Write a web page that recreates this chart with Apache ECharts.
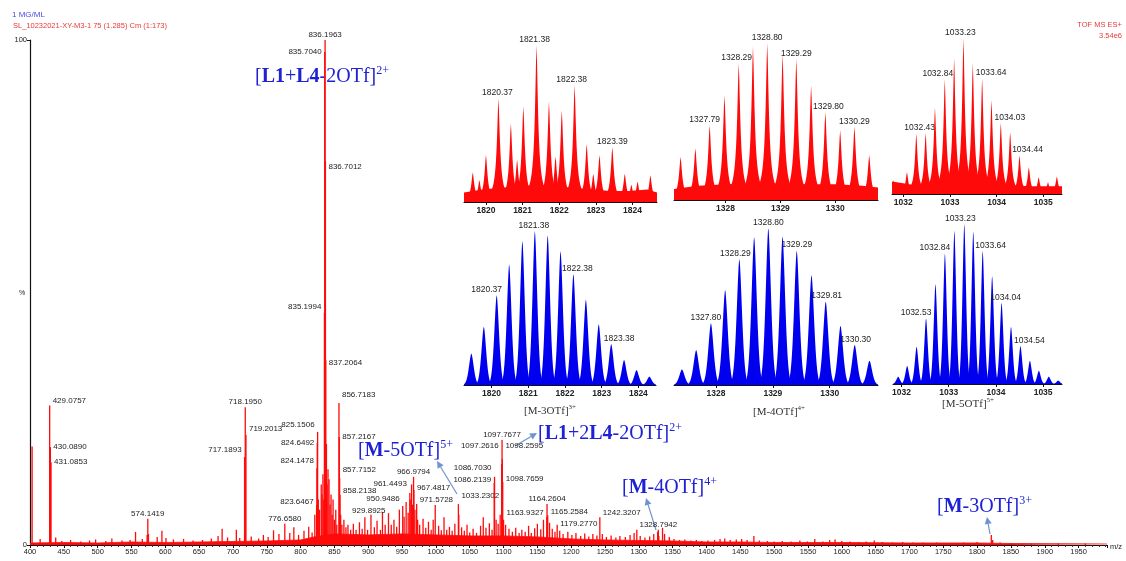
<!DOCTYPE html>
<html>
<head>
<meta charset="utf-8">
<script src="https://cdn.jsdelivr.net/npm/echarts@6.0.0/dist/echarts.min.js"></script>
<style>
  html, body { margin: 0; padding: 0; background: #fff; }
  #chart { width: 1126px; height: 561px; }
</style>
</head>
<body>
<div id="chart"></div>
<script>
const RED = '#ff0a0a'
const BLUE = '#0000ee'
const NOTE = '#1e22d4'
const ARROW = '#6f93cf'
const SANS = 'Liberation Sans'
const SERIF = 'Liberation Serif'

// ---- main spectrum: labelled peaks [m/z, %]
const labelledPeaks = [
  [429.0757, 27.6], [430.0890, 19.4], [431.0853, 16.4],
  [574.1419, 5.2],
  [717.1893, 17.4], [718.1950, 27.3], [719.2013, 21.8],
  [776.6580, 4.2],
  [823.6467, 7.9], [824.1478, 15.2], [824.6492, 20.2], [825.1506, 22.4],
  [835.1994, 46.0], [835.7040, 97.6], [836.1963, 100], [836.7012, 76.0], [837.2064, 36.6],
  [856.7183, 28.1], [857.2167, 21.4], [857.7152, 13.3], [858.2138, 9.9],
  [929.8925, 6.3], [950.9486, 7.7], [961.4493, 10.3], [966.9794, 13.5], [967.4817, 10.9], [971.5728, 8.1],
  [1033.2302, 8.1],
  [1086.2139, 12.3], [1086.7030, 13.5],
  [1097.2616, 16.0], [1097.7677, 20.8], [1098.2595, 17.0], [1098.7659, 12.5],
  [1163.9327, 5.5], [1164.2604, 8.1], [1165.2584, 5.9], [1179.2770, 4.0],
  [1242.3207, 5.5], [1328.7942, 3.0]
]
// where each peak label sits: t = above, l = left, r = right; plus a small vertical nudge
const labelSide = ['r','r','r','t','l','t','r','t','l','l','l','l','l','l','t','r','r','r','r','r','r',
  'l','l','l','t','r','r','r','l','l','l','t','r','r','l','t','r','r','r','t']
const labelDy = [-5,0,0,0,-7,0,-6,0,-3,-7,0,-7,-6,0,0,6,3,-8,0,-8,-4,
  -2,-7,-9,0,-2,-4,-8,-3,-9,-18,0,-13,-3,-4,0,-3,-1,-4,0]

// unlabelled peaks and grass
const minorPeaks = [
  [403.1, 19.5], [415, 1.2], [438, 1.5], [447, 0.8], [460, 1.0], [475, 0.7], [488, 0.9], [497, 1.1],
  [512, 0.8], [521, 1.3], [536, 0.9], [548, 1.0], [556, 2.6], [566, 1.2], [573.1, 2.0], [575.1, 2.2],
  [588, 1.6], [595, 2.8], [601, 1.4], [612, 1.1], [627, 1.2], [641, 0.9], [655, 1.0], [668, 1.3],
  [678, 1.8], [684, 3.2], [692, 1.5], [705, 3.0], [710, 1.4], [727, 1.7], [738, 1.3], [745, 2.0],
  [752, 1.6], [760, 2.9], [768, 2.2], [784, 2.4], [790, 3.5], [797, 2.0], [805, 2.8], [812, 3.6],
  [817, 2.5], [821, 6], [826.2, 9], [828, 7], [830.5, 12], [831.6, 10], [833, 14], [834.2, 9],
  [838.2, 20], [839.2, 12], [840.5, 15], [842.0, 13], [843.5, 8], [845, 10], [846.6, 6], [848, 9],
  [850, 5], [852, 7], [853.5, 4], [859.2, 6], [861, 4], [864, 5], [867, 3.5], [870, 4], [874, 3],
  [878, 4.2], [882, 3], [887, 4.5], [891, 3.2], [895, 5.5], [899, 3], [904, 6], [909, 3.5],
  [913, 4.8], [918, 3], [921, 6.5], [925, 4], [934, 4], [938, 5], [942, 3.6], [946, 7], [953, 5.6],
  [956, 8.5], [959, 6.4], [962, 9], [964, 12], [965.5, 8], [969, 7], [973, 5], [976, 4], [981, 5.2],
  [985, 3.4], [989, 4.6], [993, 3], [996, 5], [999, 7.9], [1004, 3.8], [1008, 2.9], [1012, 5.5],
  [1016, 3], [1020, 3.6], [1024, 2.8], [1028, 4.2], [1033.8, 6], [1038, 3.5], [1042, 2.8], [1046, 4],
  [1050, 2.5], [1055, 3.2], [1060, 2.4], [1066, 3.8], [1070, 5.5], [1074, 3.4], [1079, 4.3],
  [1083, 3], [1089, 5], [1092, 4.2], [1095, 6], [1100, 5], [1103, 4], [1108, 3.2], [1113, 2.6],
  [1118, 3.4], [1123, 2.4], [1127, 3], [1132, 2.6], [1137, 3.8], [1141, 2.4], [1146, 3.3],
  [1150, 4.2], [1155, 3.1], [1159, 5], [1168, 4.4], [1172, 3.2], [1176, 2.6], [1183, 2.8],
  [1188, 2.2], [1195, 2.6], [1201, 2], [1207, 2.4], [1214, 1.8], [1220, 2.3], [1226, 1.7],
  [1232, 2.2], [1238, 1.9], [1246, 2.2], [1252, 1.6], [1259, 1.9], [1266, 1.5], [1272, 1.8],
  [1280, 1.6], [1287, 2], [1293, 2.4], [1297, 3], [1302, 1.8], [1309, 1.5], [1316, 1.7],
  [1322, 2.2], [1327.8, 2.6], [1329.5, 1.8], [1335, 3.4], [1338, 2.2], [1345, 1.6], [1352, 1.2],
  [1360, 1.0], [1368, 1.1], [1377, 0.9], [1385, 1.0], [1393, 0.8], [1402, 0.9], [1412, 1.0],
  [1420, 1.2], [1427, 1.3], [1435, 1.0], [1444, 1.1], [1452, 1.2], [1460, 1.0], [1470, 1.8],
  [1478, 0.9], [1490, 0.8], [1500, 0.7], [1512, 0.8], [1525, 0.7], [1538, 0.9], [1549, 0.7],
  [1560, 1.2], [1572, 0.7], [1582, 1.0], [1590, 1.1], [1600, 0.8], [1612, 0.7], [1625, 0.6],
  [1636, 0.7], [1648, 0.9], [1660, 0.6], [1675, 0.5], [1690, 0.6], [1705, 0.5], [1720, 0.5],
  [1740, 0.5], [1760, 0.4], [1780, 0.5], [1800, 0.6], [1821, 2.0], [1823, 1.0], [1834, 0.5],
  [1850, 0.4], [1880, 0.3], [1920, 0.3], [1960, 0.3]
]
const baseNoise = [
  [400, 0.4], [450, 0.5], [500, 0.4], [550, 0.6], [600, 0.5], [650, 0.6], [700, 0.7], [750, 0.8],
  [800, 1.0], [820, 1.6], [850, 2.2], [900, 2.0], [950, 2.2], [1000, 2.0], [1050, 1.8], [1100, 1.8],
  [1150, 1.6], [1200, 1.2], [1250, 1.0], [1300, 0.9], [1350, 0.8], [1400, 0.6], [1450, 0.6],
  [1500, 0.5], [1600, 0.5], [1700, 0.4], [1800, 0.4], [1850, 0.3], [1992, 0.2]
]

// ---- insets, measured (red)
const r1Mz = [1819.64, 1819.82, 1820.0, 1820.34, 1820.68, 1820.85, 1821.02, 1821.38, 1821.72, 1821.9,
  1822.07, 1822.42, 1822.75, 1822.93, 1823.1, 1823.45, 1823.79, 1823.97, 1824.14, 1824.49]
const r1Int = [19, 14, 30, 66, 50, 27, 61, 100, 64, 29, 58.5, 74.5, 37, 18, 30, 35, 18, 11, 13, 17]
const r1Lab = [[3, '1820.37'], [7, '1821.38'], [11, '1822.38'], [15, '1823.39']]
const r1Base = [[1819.4, 6], [1819.9, 8], [1820.4, 9], [1820.9, 10], [1821.4, 11], [1821.9, 10],
  [1822.4, 9], [1822.9, 8], [1823.4, 7], [1823.9, 7], [1824.4, 8], [1824.67, 6]]

const r2Mz = [1327.18, 1327.45, 1327.71, 1327.98, 1328.24, 1328.50, 1328.76, 1329.04, 1329.29,
  1329.56, 1329.82, 1330.09, 1330.35, 1330.62]
const r2Int = [27.5, 33, 47.7, 66.7, 87.3, 98, 100, 93, 90, 73, 56, 44.5, 46.6, 28.6]
const r2Lab = [[2, '1327.79'], [4, '1328.29'], [6, '1328.80'], [8, '1329.29'], [10, '1329.80'], [12, '1330.29']]
const r2Base = [[1327.06, 7], [1327.5, 9], [1328, 10], [1328.5, 10.5], [1329, 10.5], [1329.5, 10],
  [1330, 10], [1330.5, 9], [1330.78, 8]]

const r3Mz = [1031.79, 1031.9, 1032.08, 1032.28, 1032.48, 1032.68, 1032.89, 1033.09, 1033.29, 1033.49,
  1033.69, 1033.89, 1034.09, 1034.29, 1034.49, 1034.69, 1034.9, 1035.1, 1035.29]
const r3Int = [8.6, 7.5, 14, 38.7, 39.1, 55.5, 73.5, 87.1, 100, 83.9, 74.2, 60.2, 45.6, 39.8, 24.7,
  17.2, 10.8, 7.5, 11.2]
const r3Lab = [[4, '1032.43'], [6, '1032.84'], [8, '1033.23'], [10, '1033.64'], [12, '1034.03'], [14, '1034.44']]
const r3Base = [[1031.76, 8], [1032.2, 6], [1032.7, 6.5], [1033.2, 7], [1033.7, 6.5], [1034.2, 6],
  [1034.7, 5], [1035.4, 5]]

// ---- insets, simulated (blue)
const b1Mz = [1819.45, 1819.79, 1820.14, 1820.48, 1820.84, 1821.18, 1821.53, 1821.88, 1822.23,
  1822.57, 1822.92, 1823.26, 1823.61, 1823.95, 1824.30]
const b1Int = [20.5, 37.8, 58.3, 78.4, 93.5, 100, 97.2, 87, 72, 55.5, 39.5, 26.6, 16.2, 9.7, 5.4]
const b1Lab = [[2, '1820.37'], [5, '1821.38'], [8, '1822.38'], [11, '1823.38']]

const b2Mz = [1327.40, 1327.65, 1327.91, 1328.16, 1328.41, 1328.67, 1328.92, 1329.17, 1329.42,
  1329.68, 1329.93, 1330.19, 1330.44, 1330.70]
const b2Int = [10, 22.3, 39.4, 60.6, 80.2, 94.3, 100, 94.7, 85.7, 70, 53.2, 37.7, 25.5, 15.5]
const b2Lab = [[2, '1327.80'], [4, '1328.29'], [6, '1328.80'], [8, '1329.29'], [10, '1329.81'], [12, '1330.30']]

const b3Mz = [1031.93, 1032.12, 1032.32, 1032.52, 1032.72, 1032.92, 1033.12, 1033.33, 1033.52,
  1033.72, 1033.92, 1034.12, 1034.32, 1034.52, 1034.72, 1034.91, 1035.12, 1035.32]
const b3Int = [4.6, 11.3, 23.3, 41, 62.5, 81.7, 95.8, 100, 95.4, 83.3, 67.5, 50.8, 35.8, 23.75,
  14.6, 8.3, 4.6, 2.1]
const b3Lab = [[3, '1032.53'], [5, '1032.84'], [7, '1033.23'], [9, '1033.64'], [11, '1034.04'], [13, '1034.54']]

const insetRanges = [[1819.4, 1824.67], [1327.06, 1330.78], [1031.76, 1035.4],
  [1819.25, 1824.48], [1327.26, 1330.85], [1031.82, 1035.4]]
const insetTicks = [[1820, 1821, 1822, 1823, 1824], [1328, 1329, 1330], [1032, 1033, 1034, 1035],
  [1820, 1821, 1822, 1823, 1824], [1328, 1329, 1330], [1032, 1033, 1034, 1035]]

// label nudges (px) for the inset labels, same order as the label lists
const r1Dx = [-1, -2, -3, 0]
const r2Dx = [-5, -2, 0, 0, 3, 0]
const r3Dx = [-6, -7, -3, 9, 9, 8]
const b1Dx = [-10, -1, 4, 8]
const b2Dx = [-5, -4, 0, 0, 1, 1]
const b3Dx = [-10, -10, -4, 8, 4, 9]

const insets = [
  { mz: r1Mz, val: r1Int, lab: r1Lab, dx: r1Dx, base: r1Base, kind: 'lor', w: 1.9, color: RED, box: [464, 45, 193, 157] },
  { mz: r2Mz, val: r2Int, lab: r2Lab, dx: r2Dx, base: r2Base, kind: 'lor', w: 2.0, color: RED, box: [674, 43, 204, 157] },
  { mz: r3Mz, val: r3Int, lab: r3Lab, dx: r3Dx, base: r3Base, kind: 'lor', w: 1.7, color: RED, box: [892, 38, 170, 156] },
  { mz: b1Mz, val: b1Int, lab: b1Lab, dx: b1Dx, kind: 'gau', w: 3.4, color: BLUE, box: [464, 231, 192, 154] },
  { mz: b2Mz, val: b2Int, lab: b2Lab, dx: b2Dx, kind: 'gau', w: 3.8, color: BLUE, box: [674, 228, 204, 157] },
  { mz: b3Mz, val: b3Int, lab: b3Lab, dx: b3Dx, kind: 'gau', w: 2.6, color: BLUE, box: [893, 224, 169, 160] }
]

function mainRender(withLabels) {
  return function (params, api) {
    const c = api.coord([api.value(0), 0])
    const t = api.coord([api.value(0), api.value(1)])
    const children = [{
      type: 'line',
      shape: { x1: c[0], y1: c[1], x2: t[0], y2: t[1] },
      style: { stroke: RED, lineWidth: 1.3 }
    }]
    if (withLabels) {
      const i = params.dataIndex
      const side = labelSide[i]
      const dy = labelDy[i]
      let pos
      if (side === 't') pos = [t[0], t[1] - 1 + dy, 'center', 'bottom']
      else if (side === 'l') pos = [t[0] - 3, t[1] + dy, 'right', 'middle']
      else pos = [t[0] + 3, t[1] + dy, 'left', 'middle']
      children.push({
        type: 'text', x: pos[0], y: pos[1],
        style: {
          text: api.value(0).toFixed(4), fontSize: 8, fontFamily: SANS, fill: '#222',
          textAlign: pos[2], textVerticalAlign: pos[3]
        }
      })
    }
    return { type: 'group', children }
  }
}

function insetRender(ins) {
  const labAt = {}
  ins.lab.forEach(([i, txt], k) => { labAt[i] = [txt, ins.dx[k]] })
  return function (params, api) {
    const cs = params.coordSys
    const c = api.coord([api.value(0), 0])
    const t = api.coord([api.value(0), api.value(1)])
    const H = c[1] - t[1]
    const reach = ins.kind === 'lor' ? ins.w * 8 : ins.w * 3.2
    const clamp = x => Math.min(Math.max(x, cs.x), cs.x + cs.width)
    const pts = []
    for (let k = -30; k <= 30; k++) {
      const d = reach * k / 30
      const u = Math.abs(d) / ins.w
      const f = ins.kind === 'lor' ? 1 / (1 + Math.pow(u, 1.6)) : Math.exp(-Math.pow(u, 1.7))
      pts.push([clamp(c[0] + d), c[1] - H * f])
    }
    pts.push([clamp(c[0] + reach), c[1]], [clamp(c[0] - reach), c[1]])
    const children = [{ type: 'polygon', shape: { points: pts }, style: { fill: ins.color } }]
    const lab = labAt[params.dataIndex]
    if (lab) {
      children.push({
        type: 'text', x: t[0] + lab[1], y: t[1] - 1,
        style: {
          text: lab[0], fontSize: 8.5, fontFamily: SANS, fill: '#222',
          textAlign: 'center', textVerticalAlign: 'bottom'
        }
      })
    }
    return { type: 'group', children }
  }
}

const grid = [{ left: 30, top: 40, width: 1077, height: 505 }]
const xAxis = [{
  type: 'value', gridIndex: 0, min: 400, max: 1992, interval: 50,
  axisLine: { lineStyle: { color: '#111', width: 1 } },
  axisTick: { length: 3, lineStyle: { color: '#111' } },
  minorTick: { show: true, splitNumber: 5, length: 2, lineStyle: { color: '#333' } },
  splitLine: { show: false },
  axisLabel: {
    fontSize: 7.5, fontFamily: SANS, color: '#222', margin: 3,
    formatter: v => (v % 50 === 0 ? String(v) : '')
  }
}]
const yAxis = [{
  type: 'value', gridIndex: 0, min: 0, max: 100, interval: 100,
  axisLine: { show: true, lineStyle: { color: '#111', width: 1.2 } },
  axisTick: { show: true, length: 3, lineStyle: { color: '#111' } },
  splitLine: { show: false },
  axisLabel: { fontSize: 7.5, fontFamily: SANS, color: '#222', margin: 3 }
}]
const series = [
  {
    type: 'line', xAxisIndex: 0, yAxisIndex: 0, data: baseNoise, symbol: 'none',
    lineStyle: { color: RED, width: 0.8 }, areaStyle: { color: RED, opacity: 1 }, silent: true
  },
  { type: 'custom', xAxisIndex: 0, yAxisIndex: 0, data: minorPeaks, renderItem: mainRender(false), silent: true },
  { type: 'custom', xAxisIndex: 0, yAxisIndex: 0, data: labelledPeaks, renderItem: mainRender(true), silent: true }
]

insets.forEach((ins, n) => {
  const g = n + 1
  grid.push({ left: ins.box[0], top: ins.box[1], width: ins.box[2], height: ins.box[3] })
  xAxis.push({
    type: 'value', gridIndex: g, min: insetRanges[n][0], max: insetRanges[n][1],
    axisLine: { onZero: false, lineStyle: { color: '#111', width: 1 } },
    axisTick: { customValues: insetTicks[n], length: 3, lineStyle: { color: '#111' } },
    splitLine: { show: false },
    axisLabel: {
      customValues: insetTicks[n], fontSize: 8.5, fontWeight: 'bold', fontFamily: SANS,
      color: '#222', margin: 4, formatter: v => String(v)
    }
  })
  yAxis.push({ type: 'value', gridIndex: g, min: 0, max: 100, show: false })
  if (ins.base) {
    series.push({
      type: 'line', xAxisIndex: g, yAxisIndex: g, data: ins.base, symbol: 'none',
      lineStyle: { width: 0 }, areaStyle: { color: ins.color, opacity: 1 }, silent: true
    })
  }
  series.push({
    type: 'custom', xAxisIndex: g, yAxisIndex: g,
    data: ins.mz.map((m, i) => [m, ins.val[i]]),
    renderItem: insetRender(ins), silent: true
  })
})

// annotation helpers
function note(x, y, parts, size, sup, color, align) {
  const rich = {
    n: { fontSize: size, fontFamily: SERIF, fill: color, lineHeight: size + 4 },
    b: { fontSize: size, fontFamily: SERIF, fontWeight: 'bold', fill: color, lineHeight: size + 4 },
    s: { fontSize: Math.round(size * 0.62), fontFamily: SERIF, fill: color, verticalAlign: 'top', lineHeight: size * 0.62 }
  }
  return {
    type: 'text', x, y,
    style: {
      text: parts.map(([k, s]) => `{${k}|${s}}`).join('') + `{s|${sup}}`,
      rich, textAlign: align || 'left', textVerticalAlign: 'middle'
    }
  }
}
function arrow(x1, y1, x2, y2) {
  const a = Math.atan2(y2 - y1, x2 - x1)
  const L = 7, W = 3.5
  const bx = x2 - L * Math.cos(a), by = y2 - L * Math.sin(a)
  return [
    { type: 'line', shape: { x1, y1, x2: bx, y2: by }, style: { stroke: ARROW, lineWidth: 1.2 } },
    {
      type: 'polygon',
      shape: { points: [[x2, y2], [bx + W * Math.sin(a), by - W * Math.cos(a)], [bx - W * Math.sin(a), by + W * Math.cos(a)]] },
      style: { fill: ARROW }
    }
  ]
}
function plain(x, y, text, size, color, align, extra) {
  return {
    type: 'text', x, y,
    style: Object.assign({ text, fontSize: size, fontFamily: SANS, fill: color, textAlign: align || 'left', textVerticalAlign: 'middle' }, extra || {})
  }
}

const graphic = [
  plain(12, 15, '1 MG/ML', 8, '#4a4ae0'),
  plain(13, 26, 'SL_10232021-XY-M3-1 75 (1.285) Cm (1:173)', 7.5, '#e83a3a'),
  plain(1122, 25, 'TOF MS ES+', 7.5, '#e83a3a', 'right'),
  plain(1122, 36, '3.54e6', 7.5, '#e83a3a', 'right'),
  plain(22, 293, '%', 7, '#222', 'center'),
  plain(1110, 547, 'm/z', 7.5, '#222', 'left'),
  note(255, 77, [['n', '['], ['b', 'L1'], ['n', '+'], ['b', 'L4'], ['n', '-2OTf]']], 20, '2+', NOTE),
  note(358, 451, [['n', '['], ['b', 'M'], ['n', '-5OTf]']], 20, '5+', NOTE),
  note(538, 434, [['n', '['], ['b', 'L1'], ['n', '+2'], ['b', 'L4'], ['n', '-2OTf]']], 20, '2+', NOTE),
  note(622, 488, [['n', '['], ['b', 'M'], ['n', '-4OTf]']], 20, '4+', NOTE),
  note(937, 507, [['n', '['], ['b', 'M'], ['n', '-3OTf]']], 20, '3+', NOTE),
  note(550, 411, [['n', '[M-3OTf]']], 11, '3+', '#333', 'center'),
  note(779, 412, [['n', '[M-4OTf]']], 11, '4+', '#333', 'center'),
  note(968, 404, [['n', '[M-5OTf]']], 11, '5+', '#333', 'center'),
  ...arrow(457, 494, 437, 461),
  ...arrow(515, 446, 537, 433),
  ...arrow(656, 530, 646, 498),
  ...arrow(990, 534, 987, 517)
]

const chart = echarts.init(document.getElementById('chart'))
chart.setOption({
  animation: false,
  backgroundColor: '#fff',
  grid, xAxis, yAxis, series, graphic
})
</script>
</body>
</html>
